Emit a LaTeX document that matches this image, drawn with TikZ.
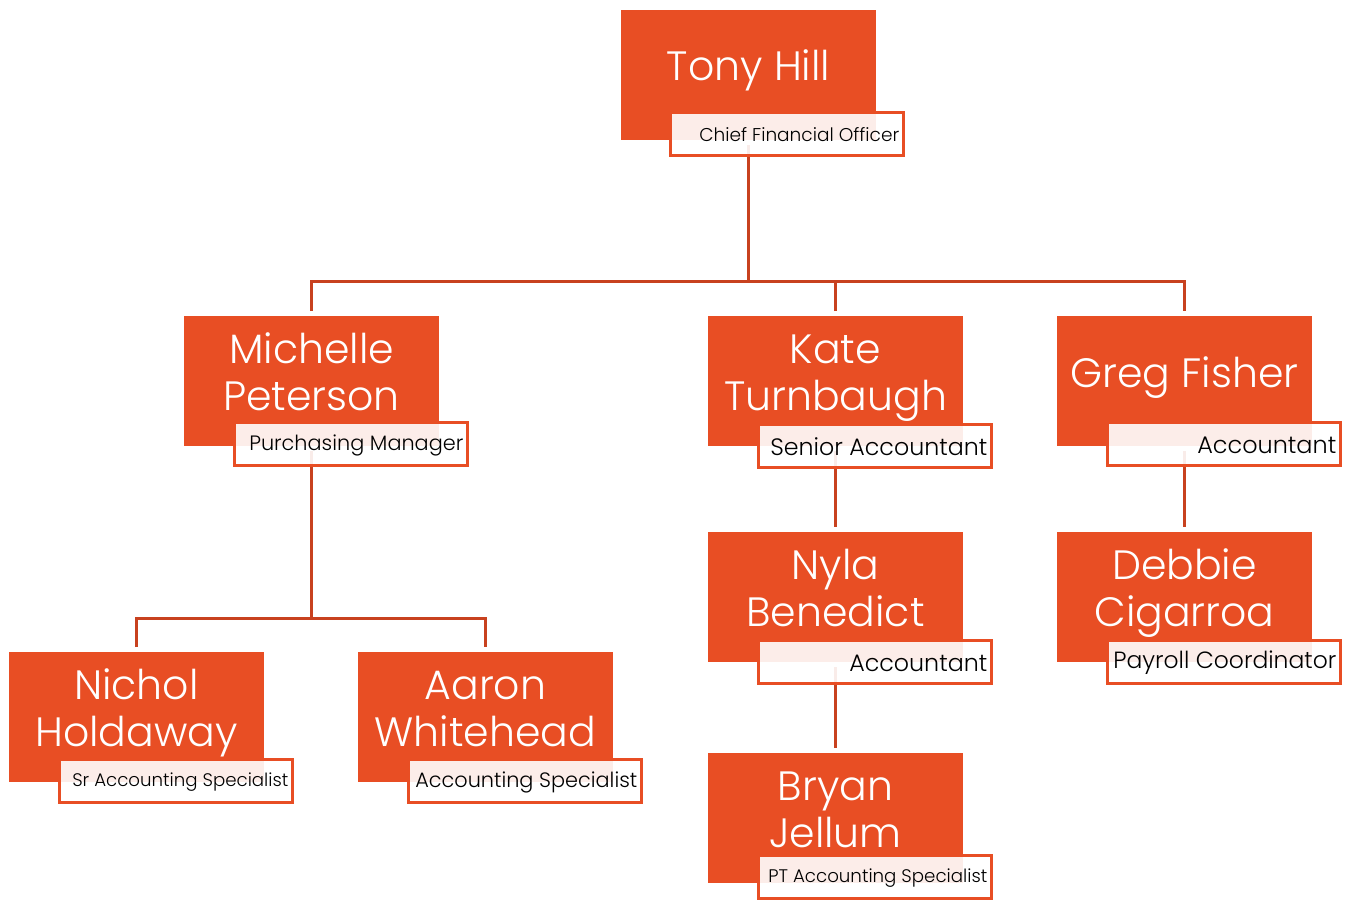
\documentclass[tikz,border=0pt]{standalone}
\usepackage{fontspec}
\setmainfont{Poppins}[UprightFont={* Light}]
\usepackage{graphicx}
\usetikzlibrary{backgrounds}

\definecolor{brand}{HTML}{E84E24}
\definecolor{linkred}{HTML}{C8411F}

% scale a title to a given width
\newcommand\fitto[2]{\resizebox{#1}{!}{#2}}

\tikzset{
  personbox/.style={fill=brand, minimum width=255pt, minimum height=130pt,
    inner sep=0pt, outer sep=0pt, anchor=north west},
  titlebox/.style={draw=brand, line width=3pt, fill=white, fill opacity=0.9,
    minimum width=233pt, minimum height=43pt, inner sep=0pt, outer sep=0pt,
    anchor=north west},
  nametext/.style={text=white, font=\fontsize{41}{47}\selectfont, align=center,
    inner sep=0pt, anchor=base},
  titletext/.style={text=black, anchor=east, inner sep=0pt},
  link/.style={draw=linkred, line width=3pt},
}

\begin{document}
\begin{tikzpicture}[x=1pt,y=-1pt]
\path[use as bounding box] (0,0) rectangle (1351,899);
\clip (0,0) rectangle (1351,899);

% ---- coloured name blocks ----
\node[personbox] (tony)     at (621,10)   {};
\node[personbox] (michelle) at (184,316)  {};
\node[personbox] (kate)     at (708,316)  {};
\node[personbox] (greg)     at (1057,316) {};
\node[personbox] (nyla)     at (708,532)  {};
\node[personbox] (debbie)   at (1057,532) {};
\node[personbox] (nichol)   at (9,652)    {};
\node[personbox] (aaron)    at (358,652)  {};
\node[personbox] (bryan)    at (708,753)  {};

% the last baseline sits 71pt (one line) or 94pt (two lines) below the block top
\node[nametext] (tonyn)     at ([yshift=-71pt]tony.north)     {Tony Hill};
\node[nametext] (gregn)     at ([yshift=-71pt]greg.north)     {Greg Fisher};
\node[nametext] (michellen) at ([yshift=-94pt]michelle.north) {Michelle\\Peterson};
\node[nametext] (katen)     at ([yshift=-94pt]kate.north)     {Kate\\Turnbaugh};
\node[nametext] (nylan)     at ([yshift=-94pt]nyla.north)     {Nyla\\Benedict};
\node[nametext] (debbien)   at ([yshift=-94pt]debbie.north)   {Debbie\\Cigarroa};
\node[nametext] (nicholn)   at ([yshift=-94pt]nichol.north)   {Nichol\\Holdaway};
\node[nametext] (aaronn)    at ([yshift=-94pt]aaron.north)    {Aaron\\Whitehead};
\node[nametext] (bryann)    at ([yshift=-94pt]bryan.north)    {Bryan\\Jellum};

% ---- job title tabs ----
\node[titlebox] (tonyt)     at (670.5,112.5)  {};
\node[titlebox] (michellet) at (234.5,422.5)  {};
\node[titlebox] (katet)     at (758.5,424.5)  {};
\node[titlebox] (gregt)     at (1107.5,422.5) {};
\node[titlebox] (nylat)     at (758.5,640.5)  {};
\node[titlebox] (debbiet)   at (1107.5,640.5) {};
\node[titlebox] (nicholt)   at (59.5,759.5)   {};
\node[titlebox] (aaront)    at (408.5,759.5)  {};
\node[titlebox] (bryant)    at (758.5,855.5)  {};

\node[titletext] (tonyl)     at ([xshift=-4pt,yshift=-1pt]tonyt.east)     {\fitto{200pt}{Chief Financial Officer}};
\node[titletext] (michellel) at ([xshift=-4pt,yshift=-1pt]michellet.east) {\fitto{214pt}{Purchasing Manager}};
\node[titletext] (katel)     at ([xshift=-4pt,yshift=-1pt]katet.east)     {\fitto{217pt}{Senior Accountant}};
\node[titletext] (gregl)     at ([xshift=-4pt,yshift=-1pt]gregt.east)     {\fitto{139pt}{Accountant}};
\node[titletext] (nylal)     at ([xshift=-4pt,yshift=-1pt]nylat.east)     {\fitto{138pt}{Accountant}};
\node[titletext] (debbiel)   at ([xshift=-4pt,yshift=-1pt]debbiet.east)   {\fitto{223pt}{Payroll Coordinator}};
\node[titletext] (nicholl)   at ([xshift=-4pt,yshift=-1pt]nicholt.east)   {\fitto{216pt}{Sr Accounting Specialist}};
\node[titletext] (aaronl)    at ([xshift=-4pt,yshift=-1pt]aaront.east)    {\fitto{222pt}{Accounting Specialist}};
\node[titletext] (bryanl)    at ([xshift=-4pt,yshift=-1pt]bryant.east)    {\fitto{219pt}{PT Accounting Specialist}};

% ---- reporting lines ----
\coordinate (bus1) at (748.5,281);
\coordinate (bus2) at (311.5,618);
\begin{scope}[on background layer]
  \draw[link, shorten <=5pt] (tony.south) -- (bus1);
  \draw[link, shorten <=5pt, shorten >=5pt] (michelle.north) |- (bus1) -| (greg.north);
  \draw[link, shorten <=5pt] (kate.north) -- (kate.north |- bus1);
  \draw[link, shorten <=5pt] (michelle.south) -- (bus2);
  \draw[link, shorten <=5pt, shorten >=5pt] (nichol.north) |- (bus2) -| (aaron.north);
  \draw[link, shorten <=5pt, shorten >=5pt] (kate.south) -- (nyla.north);
  \draw[link, shorten <=5pt, shorten >=5pt] (greg.south) -- (debbie.north);
  \draw[link, shorten <=5pt, shorten >=5pt] (nyla.south) -- (bryan.north);
\end{scope}
\end{tikzpicture}
\end{document}
